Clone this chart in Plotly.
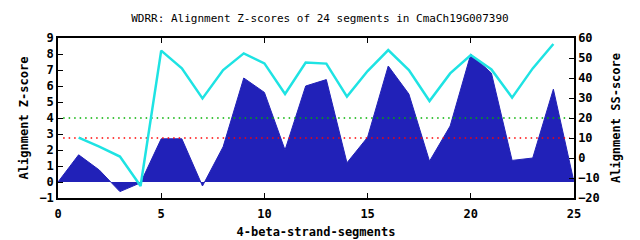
import plotly.graph_objects as go

seg_x = list(range(0, 26))
z_scores = [0, 1.7, 0.75, -0.6, -0.05, 2.7, 2.7, -0.25, 2.2, 6.5, 5.6, 2.0, 6.0, 6.4,
            1.2, 2.8, 7.25, 5.5, 1.3, 3.5, 8.0, 6.8, 1.35, 1.5, 5.8, 0]
ss_x = list(range(1, 25))
ss_scores = [10.2, 5.7, 0.7, -14, 53.7, 44.8, 29.8, 44, 52.3, 47.3, 32, 47.7, 47.2,
             30.7, 43.5, 54, 44, 28.5, 42.3, 51.5, 44.3, 30.2, 44.8, 57]
ref_lines_ss = [10, 20]
ref_colors = ["#ff0000", "#00b000"]

font = "DejaVu Sans Mono"
fig = go.Figure()
fig.add_trace(go.Scatter(x=seg_x, y=z_scores, mode="lines", fill="tozeroy",
                         fillcolor="#2121b8", line=dict(color="#2121b8", width=1),
                         showlegend=False))
for v, c in zip(ref_lines_ss, ref_colors):
    fig.add_trace(go.Scatter(x=[0.25, 24.8], y=[v, v], mode="lines", yaxis="y2",
                             line=dict(color=c, width=1.5, dash="1.5px,4px"),
                             showlegend=False))
fig.add_trace(go.Scatter(x=ss_x, y=ss_scores, mode="lines", yaxis="y2",
                         line=dict(color="#1ee3e3", width=2.5), showlegend=False))

axis_common = dict(showline=True, linecolor="black", linewidth=1.5, ticks="inside",
                   ticklen=5, tickcolor="black", showgrid=False, zeroline=False,
                   automargin=False,
                   tickfont=dict(family=font, size=12, color="black", weight="bold"))
title_font = dict(family=font, size=12, color="black", weight="bold")
fig.update_layout(
    width=640, height=240,
    margin=dict(l=58, r=66, t=38, b=42),
    plot_bgcolor="white", paper_bgcolor="white",
    title=dict(text="WDRR: Alignment Z-scores of 24 segments in CmaCh19G007390",
               x=0.5, xanchor="center", y=0.925, yanchor="middle",
               font=dict(family=font, size=11, color="black")),
    xaxis=dict(range=[0, 25], tickvals=[0, 5, 10, 15, 20, 25], mirror="ticks",
               ticklabelstandoff=4,
               title=dict(text="4-beta-strand-segments", standoff=7, font=title_font),
               **axis_common),
    yaxis=dict(range=[-1, 9], dtick=1,
               title=dict(text="Alignment Z-score", standoff=8, font=title_font),
               **axis_common),
    yaxis2=dict(range=[-20, 60], dtick=10, overlaying="y", side="right",
                title=dict(text="Alignment SS-score", standoff=13, font=title_font),
                **axis_common),
)
fig.write_html("out.html")
